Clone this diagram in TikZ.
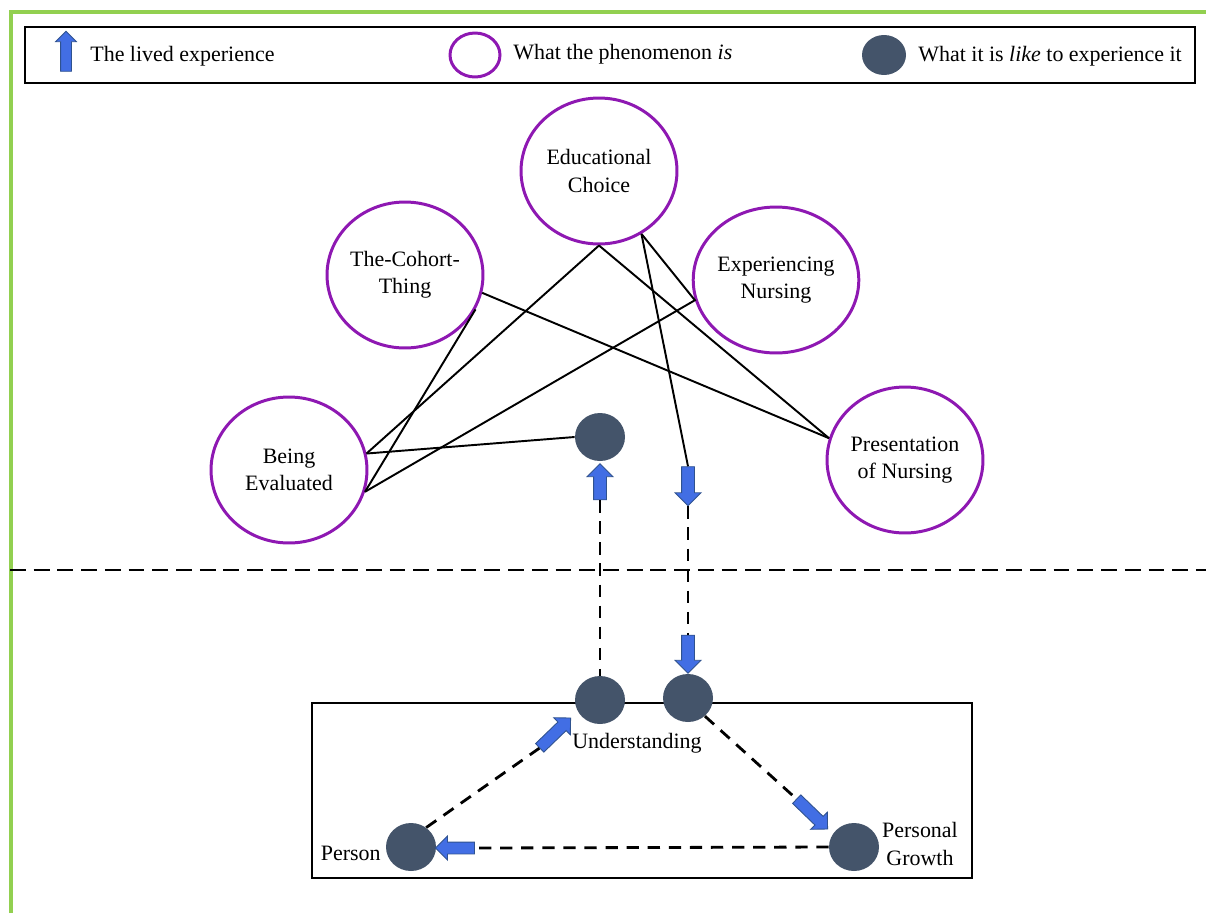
\documentclass[tikz,border=0pt]{standalone}
\usepackage{fontspec}
\setmainfont{Liberation Serif}
\usetikzlibrary{shapes.geometric,shapes.arrows,positioning}
\definecolor{phenpurple}{RGB}{142,24,178}
\definecolor{likegray}{RGB}{68,84,106}
\definecolor{livedblue}{RGB}{66,110,228}
\definecolor{livedborder}{RGB}{47,82,143}
\definecolor{framegreen}{RGB}{146,208,80}
\begin{document}
\begin{tikzpicture}[x=0.02cm,y=-0.02cm,font=\fontsize{12.5}{15.5}\selectfont]

\tikzset{line/.style={draw,line width=1.1pt}}
\tikzset{dashline/.style={draw,line width=1.6pt,dash pattern=on 7pt off 5pt}}
\tikzset{phen/.style={ellipse,draw=phenpurple,line width=1.7pt,minimum width=3.12cm,minimum height=2.92cm,align=center,inner sep=0pt}}
\tikzset{like/.style={ellipse,fill=likegray,minimum width=1cm,minimum height=0.96cm,inner sep=0pt}}
\tikzset{lived/.style={single arrow,draw=livedborder,fill=livedblue,line width=0.5pt,inner xsep=0pt,inner ysep=0.12cm,single arrow head extend=0.13cm}}
\tikzset{txt/.style={align=center,inner sep=0pt}}

\useasboundingbox (0,0) rectangle (1206,913);

% frame and legend
\draw[framegreen,line width=2.2pt] (11,913) -- (11,12) -- (1206,12);
\draw[line width=1.3pt] (25,27) rectangle (1195,83);
\node[lived,rotate=90,inner ysep=0.1cm,single arrow head extend=0.1cm,minimum height=0.8cm] (keyA) at (66,54) {};
\node[txt,anchor=west] (keyAt) at (90,56) {The lived experience};
\node[ellipse,draw=phenpurple,line width=1.7pt,minimum width=1cm,minimum height=0.88cm,inner sep=0pt] (keyP) at (475,55) {};
\node[txt,anchor=west] (keyPt) at (513,54) {What the phenomenon \textit{is}};
\node[like,minimum width=0.88cm,minimum height=0.8cm] (keyL) at (884,55) {};
\node[txt,anchor=west] (keyLt) at (918,56) {What it is \textit{like} to experience it};

\draw[line width=1.6pt,dash pattern=on 9pt off 4.5pt] (10,570) -- (1206,570);
\draw[line width=0.9pt] (312,703) rectangle (972,878);

% what the phenomenon is
\node[phen] (edu) at (599,171) {Educational\\Choice};
\node[phen] (cohort) at (405,275) {The-Cohort-\\Thing};
\node[phen] (exper) at (776,280) {Experiencing\\Nursing};
\node[phen] (beval) at (289,470) {Being\\Evaluated};
\node[phen] (pres) at (905,460) {Presentation\\of Nursing};

% what it is like
\node[like] (dtop) at (600,437) {};
\node[like] (undl) at (600,700) {};
\node[like] (undr) at (688,698) {};
\node[like] (person) at (411,847) {};
\node[like] (growth) at (854,847) {};

\node[txt] (tund) at (637,743) {Understanding};
\node[txt,anchor=east] (tperson) at (381,853) {Person};
\node[txt] (tgrowth) at (920,844) {Personal\\Growth};

% the lived experience
\node[lived,rotate=90,minimum height=0.72cm] (upA) at (600,485) {};
\node[lived,rotate=-90,minimum height=0.78cm] (dnA) at (688,483) {};
\node[lived,rotate=-90,minimum height=0.76cm] (dnB) at (688,651) {};
\node[lived,rotate=44,minimum height=0.86cm,inner ysep=0.11cm,single arrow head extend=0.12cm] (ulA) at (553,735) {};
\node[lived,rotate=-44,minimum height=0.86cm,inner ysep=0.11cm,single arrow head extend=0.12cm] (drA) at (810,812) {};
\node[lived,rotate=180,minimum height=0.78cm,inner ysep=0.11cm,single arrow head extend=0.12cm] (lA) at (458,848) {};

\path[line] (beval.12) to (edu.south);
\path[line] (beval.12) to (dtop.west);
\path[line] (beval.-16) to (cohort.-26);
\path[line] (beval.-16) to (exper.194) to (edu.-56);
\path[line] (edu.-56) to (dnA.tail);
\path[line] (edu.south) to (pres.164);
\path[line] (cohort.-13) to (pres.164);

\path[dashline] (upA.tail) to (undl.north);
\path[dashline] (dnA.tip) to (dnB.tail);
\path[dashline] (person.52) to (ulA.tail);
\path[dashline] (undr.-47) to (drA.tail);
\path[dashline] (growth.west) to (lA.tail);

\end{tikzpicture}
\end{document}
